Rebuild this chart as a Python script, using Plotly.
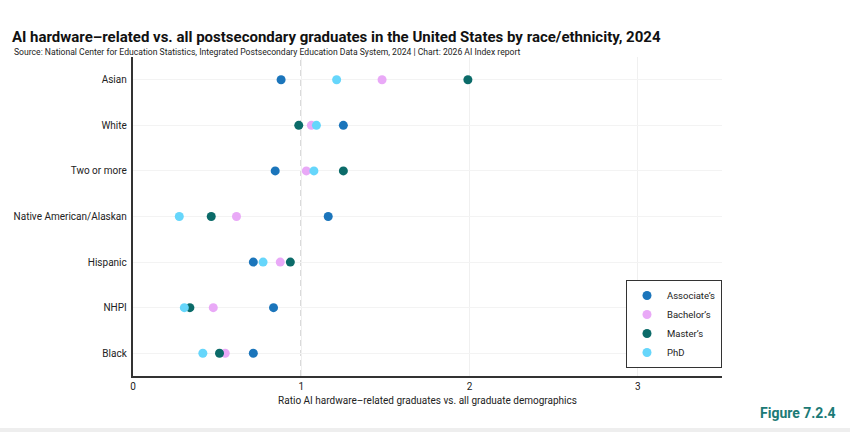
import plotly.graph_objects as go

categories = ["Asian", "White", "Two or more", "Native American/Alaskan", "Hispanic", "NHPI", "Black"]
associates = [0.88, 1.25, 0.845, 1.16, 0.715, 0.835, 0.715]
bachelors = [1.48, 1.06, 1.03, 0.615, 0.875, 0.477, 0.548]
masters = [1.99, 0.985, 1.25, 0.465, 0.935, 0.338, 0.514]
phd = [1.21, 1.09, 1.075, 0.275, 0.773, 0.305, 0.415]

series = [
    ("Associate’s", associates, "#1b75bb"),
    ("Bachelor’s", bachelors, "#e9a9f7"),
    ("Master’s", masters, "#0b6b69"),
    ("PhD", phd, "#66d6fb"),
]

FONT = "Roboto, Inter, sans-serif"
TOP = 57
PH = 432 - TOP - 56
fig = go.Figure()
for name, vals, col in series:
    fig.add_trace(go.Scatter(
        x=vals, y=categories, mode="markers", name=name,
        marker=dict(color=col, size=9, line=dict(width=0)),
    ))

fig.add_shape(type="line", xref="x", yref="paper", x0=1, x1=1, y0=0, y1=1,
              line=dict(color="#9a9a9a", width=1.3, dash="6px,4px"), layer="below")
fig.add_shape(type="rect", xref="paper", yref="paper", x0=-0.3, x1=1.3,
              y0=-60 / PH, y1=-52 / PH, line=dict(width=0), fillcolor="#eeeeee")

fig.update_layout(
    width=850, height=432,
    margin=dict(l=133, r=128, t=TOP, b=56),
    paper_bgcolor="white", plot_bgcolor="white",
    font=dict(family=FONT, color="#222", size=10),
    title=dict(
        text="<b>AI hardware–related vs. all postsecondary graduates in the United States by race/ethnicity, 2024</b>",
        x=0.014, xanchor="left", y=0.926, yanchor="top",
        font=dict(size=15, color="#111", family=FONT),
    ),
    xaxis=dict(range=[0, 3.5], tickvals=[0, 1, 2, 3], showgrid=True, gridcolor="#f0f0f0",
               zeroline=False, showline=True, linecolor="#333", linewidth=1.5,
               ticks="", ticklen=0,
               title=dict(text="Ratio AI hardware–related graduates vs. all graduate demographics",
                          font=dict(size=10), standoff=6),
               tickfont=dict(size=10)),
    yaxis=dict(categoryorder="array", categoryarray=categories[::-1],
               range=[-0.5, 6.5], showgrid=True, gridcolor="#f3f3f3",
               showline=True, linecolor="#333", linewidth=1.5, ticks="",
               tickfont=dict(size=10), ticksuffix=" ", automargin=False),
    legend=dict(x=1, xanchor="right", y=0.025, yanchor="bottom",
                bordercolor="#333", borderwidth=1, bgcolor="white",
                font=dict(size=9.5), itemsizing="trace", tracegroupgap=0,
                itemwidth=30),
    showlegend=True,
)
fig.add_annotation(text="Source: National Center for Education Statistics, Integrated Postsecondary Education Data System, 2024 | Chart: 2026 AI Index report",
                   xref="paper", yref="paper", x=(12 - 133) / 589, xanchor="left",
                   y=1.0 + (TOP - 52) / PH, yanchor="middle", showarrow=False,
                   font=dict(size=8.6, color="#222", family=FONT))
fig.add_annotation(text="<b>Figure 7.2.4</b>", xref="paper", yref="paper",
                   x=1.195, xanchor="right", y=-27 / PH, yanchor="top", showarrow=False,
                   font=dict(size=14, color="#1b7a76", family=FONT))

fig.write_html("out.html")
